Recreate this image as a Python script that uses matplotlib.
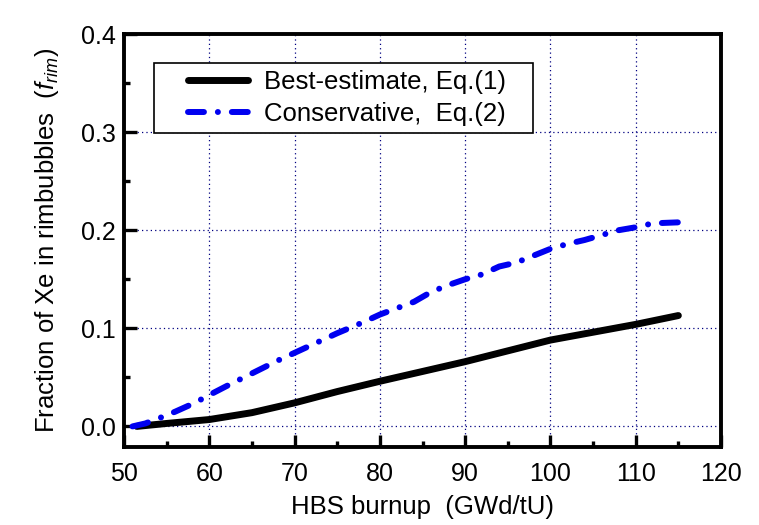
import matplotlib
matplotlib.use("Agg")
import matplotlib.pyplot as plt
from matplotlib.ticker import MultipleLocator
from matplotlib.patches import Rectangle

plt.rcParams['font.family'] = ['Liberation Sans', 'DejaVu Sans']
plt.rcParams['mathtext.fontset'] = 'custom'
plt.rcParams['mathtext.it'] = 'Liberation Sans:italic'
plt.rcParams['mathtext.rm'] = 'Liberation Sans'

# Best-estimate, Eq.(1)
best_x = [51.5, 55, 60, 65, 70, 75, 80, 85, 90, 95, 100, 105, 110, 115]
best_y = [0.0, 0.003, 0.007, 0.014, 0.024, 0.0355, 0.046, 0.056, 0.066, 0.077, 0.088, 0.096, 0.104, 0.113]

# Conservative, Eq.(2)
cons_x = [51, 52.5, 54.6, 56, 58.3, 60, 62, 65, 68, 70, 72, 75, 78, 80, 84, 86, 88, 90,
          92, 94, 96, 98, 100, 102, 104, 106, 108, 110, 112, 115]
cons_y = [0.0, 0.003, 0.010, 0.015, 0.024, 0.032, 0.041, 0.054, 0.067, 0.075, 0.083, 0.095,
          0.106, 0.114, 0.127, 0.137, 0.144, 0.150, 0.155, 0.163, 0.167, 0.174, 0.181, 0.186,
          0.190, 0.195, 0.200, 0.203, 0.207, 0.208]

labels = ["Best-estimate, Eq.(1)", "Conservative,  Eq.(2)"]
x_ticks = [50, 60, 70, 80, 90, 100, 110, 120]
y_ticks = [0.0, 0.1, 0.2, 0.3, 0.4]
y_tick_labels = ["0.0", "0.1", "0.2", "0.3", "0.4"]

W, H = 759, 525
L, R, T, B = 124, 721, 34, 447

fig = plt.figure(figsize=(W / 100, H / 100), dpi=100)
ax = fig.add_axes([L / W, 1 - B / H, (R - L) / W, (B - T) / H])

def ax_x(px):
    return (px - L) / (R - L)

def ax_y(py):
    return (B - py) / (B - T)

ax.plot(best_x, best_y, color='black', lw=5.0, solid_capstyle='round', label=labels[0], zorder=3)
ax.plot(cons_x, cons_y, color='#0000f0', lw=4.3, dash_capstyle='round',
        dashes=(2.67, 2.33, 0.01, 2.33), label=labels[1], zorder=3)

ax.set_xlim(50, 120)
ax.set_ylim(-0.021, 0.4)
ax.set_xticks(x_ticks)
ax.set_yticks(y_ticks)
ax.set_yticklabels(y_tick_labels)
ax.xaxis.set_minor_locator(MultipleLocator(5))
ax.yaxis.set_minor_locator(MultipleLocator(0.05))

ax.grid(True, which='major', color='#000080', linestyle=(0, (1, 2.5)), linewidth=0.9)
ax.set_axisbelow(True)

for s in ax.spines.values():
    s.set_linewidth(2.8)

ax.tick_params(which='both', direction='in', top=False, right=False, width=2.4, labelsize=18)
ax.tick_params(which='major', length=9)
ax.tick_params(which='minor', length=4.5)
ax.tick_params(axis='x', pad=11)
ax.tick_params(axis='y', pad=6)

ax.set_xlabel("HBS burnup  (GWd/tU)", fontsize=18.5, labelpad=6)
ax.set_ylabel(r"Fraction of Xe in rimbubbles  ($f_{rim}$)", fontsize=18.5, labelpad=14)

leg = ax.legend(loc='upper left', bbox_to_anchor=(ax_x(188), ax_y(70)), borderaxespad=0,
                fontsize=18.5, frameon=False, handlelength=2.35,
                handletextpad=0.6, borderpad=0.0, labelspacing=0.3)
ax.add_patch(Rectangle((ax_x(154), ax_y(133)), ax_x(533) - ax_x(154), ax_y(63) - ax_y(133),
                       transform=ax.transAxes, facecolor='white', edgecolor='black',
                       linewidth=1.2, zorder=4))
leg.set_zorder(5)

fig.savefig("out.png", dpi=100)
